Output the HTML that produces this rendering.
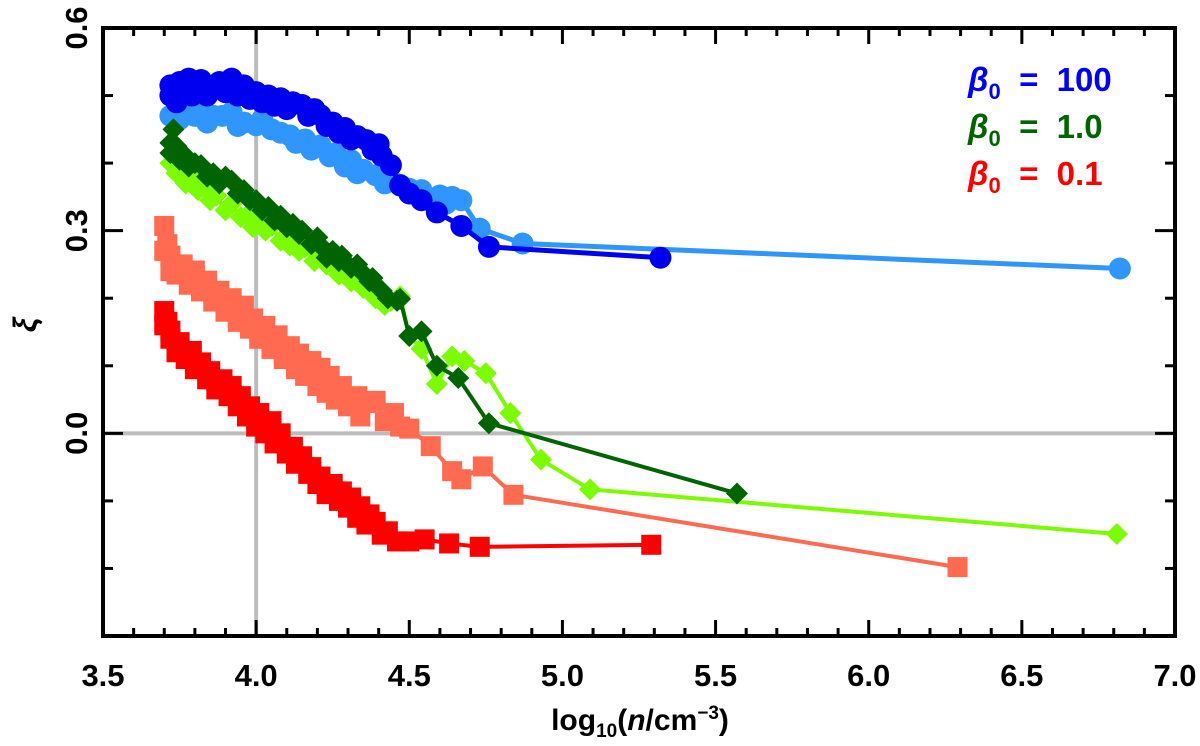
<!DOCTYPE html>
<html><head><meta charset="utf-8"><style>
html,body{margin:0;padding:0;background:#fff;}
svg text{font-family:"Liberation Sans",sans-serif;font-weight:bold;}
</style></head><body>
<svg id="chart" width="1200" height="741" viewBox="0 0 1200 741" xmlns="http://www.w3.org/2000/svg">
<g id="grid"></g>
<g id="series"></g>
<g id="axes"></g>
<g id="legend">
<text x="968" y="91" fill="#0000ff" font-size="33"><tspan font-style="italic">β</tspan><tspan font-size="22" dy="8">0</tspan><tspan dy="-8" xml:space="preserve">  =  100</tspan></text>
<text x="968" y="138" fill="#006400" font-size="33"><tspan font-style="italic">β</tspan><tspan font-size="22" dy="8">0</tspan><tspan dy="-8" xml:space="preserve">  =  1.0</tspan></text>
<text x="968" y="185" fill="#ff0000" font-size="33"><tspan font-style="italic">β</tspan><tspan font-size="22" dy="8">0</tspan><tspan dy="-8" xml:space="preserve">  =  0.1</tspan></text>
</g>
<text x="640" y="730" text-anchor="middle" font-size="30">log<tspan font-size="19" dy="7">10</tspan><tspan dy="-7">(</tspan><tspan font-style="italic">n</tspan>/cm<tspan font-size="19" dy="-11">−3</tspan><tspan dy="11">)</tspan></text>
<text x="0" y="0" transform="translate(36,325) rotate(-90)" text-anchor="middle" font-size="32" font-style="italic">ξ</text>
</svg>
<script>
const xTicks=[3.5,4.0,4.5,5.0,5.5,6.0,6.5,7.0];
const xTickLabels=["3.5","4.0","4.5","5.0","5.5","6.0","6.5","7.0"];
const yTicks=[0.0,0.3,0.6];
const yTickLabels=["0.0","0.3","0.6"];
const xMinor=[3.6,3.7,3.8,3.9,4.1,4.2,4.3,4.4,4.6,4.7,4.8,4.9,5.1,5.2,5.3,5.4,5.6,5.7,5.8,5.9,6.1,6.2,6.3,6.4,6.6,6.7,6.8,6.9];
const yMinor=[-0.2,-0.1,0.1,0.2,0.4,0.5];
const b100X=[3.72,3.72,3.74,3.75,3.76,3.78,3.79,3.80,3.82,3.84,3.86,3.88,3.90,3.92,3.94,3.96,3.98,4.0,4.02,4.04,4.06,4.08,4.10,4.12,4.15,4.17,4.19,4.21,4.23,4.25,4.27,4.29,4.31,4.33,4.36,4.38,4.40,4.41,4.44,4.47,4.50,4.54,4.59,4.67,4.76,5.32];
const b100Y=[0.50,0.515,0.49,0.52,0.505,0.525,0.50,0.515,0.523,0.50,0.51,0.52,0.505,0.525,0.50,0.515,0.495,0.505,0.49,0.50,0.485,0.496,0.48,0.49,0.486,0.47,0.48,0.471,0.455,0.46,0.445,0.452,0.435,0.44,0.434,0.42,0.428,0.411,0.397,0.367,0.355,0.345,0.327,0.307,0.276,0.26];
const b100lX=[3.72,3.74,3.75,3.78,3.80,3.82,3.84,3.86,3.89,3.92,3.94,3.96,4.0,4.02,4.05,4.08,4.11,4.13,4.16,4.18,4.21,4.24,4.26,4.29,4.31,4.33,4.35,4.39,4.42,4.44,4.47,4.50,4.54,4.57,4.60,4.62,4.64,4.67,4.73,4.87,6.82];
const b100lY=[0.47,0.48,0.465,0.475,0.47,0.475,0.46,0.47,0.47,0.475,0.455,0.46,0.456,0.465,0.45,0.445,0.441,0.43,0.435,0.42,0.426,0.41,0.415,0.395,0.404,0.385,0.39,0.382,0.37,0.375,0.368,0.362,0.36,0.345,0.352,0.34,0.35,0.345,0.303,0.281,0.244];
const b1X=[3.72,3.73,3.72,3.74,3.75,3.77,3.78,3.80,3.82,3.84,3.86,3.88,3.90,3.92,3.94,3.96,3.98,4.0,4.02,4.04,4.06,4.08,4.10,4.12,4.14,4.15,4.18,4.20,4.21,4.23,4.25,4.27,4.28,4.31,4.33,4.34,4.37,4.38,4.41,4.43,4.46,4.47,4.50,4.54,4.59,4.66,4.76,5.57];
const b1Y=[0.43,0.45,0.415,0.425,0.405,0.41,0.395,0.40,0.397,0.38,0.385,0.37,0.38,0.374,0.355,0.36,0.345,0.345,0.33,0.335,0.315,0.322,0.305,0.31,0.295,0.30,0.28,0.29,0.278,0.26,0.27,0.255,0.263,0.245,0.25,0.241,0.225,0.23,0.211,0.2,0.196,0.199,0.144,0.151,0.10,0.082,0.015,-0.089];
const b1lX=[3.72,3.74,3.75,3.77,3.79,3.81,3.83,3.85,3.87,3.90,3.92,3.95,3.97,3.99,4.01,4.03,4.05,4.08,4.10,4.11,4.14,4.16,4.19,4.21,4.23,4.25,4.27,4.29,4.31,4.33,4.35,4.37,4.39,4.40,4.42,4.44,4.47,4.50,4.54,4.59,4.64,4.68,4.75,4.83,4.93,5.09,6.81];
const b1lY=[0.40,0.385,0.39,0.37,0.38,0.36,0.365,0.345,0.352,0.33,0.34,0.32,0.322,0.305,0.315,0.30,0.307,0.285,0.29,0.278,0.27,0.275,0.255,0.263,0.25,0.255,0.235,0.244,0.225,0.23,0.215,0.211,0.2,0.205,0.19,0.196,0.203,0.144,0.125,0.073,0.114,0.107,0.089,0.03,-0.039,-0.083,-0.149];
const b01lX=[3.70,3.70,3.71,3.72,3.72,3.74,3.76,3.78,3.80,3.82,3.84,3.86,3.88,3.90,3.92,3.94,3.96,3.98,3.99,4.01,4.03,4.05,4.07,4.09,4.11,4.13,4.14,4.16,4.18,4.20,4.21,4.23,4.24,4.26,4.28,4.30,4.33,4.34,4.36,4.39,4.42,4.45,4.47,4.50,4.57,4.64,4.67,4.74,4.84,6.29];
const b01lY=[0.307,0.27,0.28,0.24,0.263,0.235,0.25,0.22,0.241,0.21,0.226,0.195,0.211,0.18,0.2,0.165,0.189,0.155,0.17,0.14,0.159,0.125,0.145,0.11,0.129,0.095,0.118,0.085,0.107,0.07,0.097,0.06,0.085,0.05,0.07,0.04,0.055,0.025,0.045,0.048,0.018,0.03,0.01,0.007,-0.019,-0.056,-0.068,-0.049,-0.091,-0.198];
const b01X=[3.70,3.70,3.71,3.72,3.72,3.74,3.75,3.77,3.79,3.80,3.82,3.84,3.85,3.87,3.89,3.91,3.92,3.94,3.95,3.97,3.98,4.00,4.01,4.03,4.05,4.06,4.08,4.10,4.12,4.13,4.15,4.17,4.18,4.20,4.21,4.23,4.25,4.27,4.28,4.30,4.31,4.33,4.34,4.36,4.37,4.39,4.41,4.43,4.46,4.50,4.55,4.63,4.73,5.29];
const b01Y=[0.181,0.16,0.165,0.14,0.152,0.12,0.135,0.11,0.122,0.095,0.105,0.08,0.092,0.065,0.08,0.055,0.07,0.04,0.055,0.025,0.04,0.01,0.03,0.0,0.018,-0.015,0.0,-0.03,-0.02,-0.045,-0.034,-0.06,-0.05,-0.075,-0.064,-0.09,-0.075,-0.1,-0.086,-0.11,-0.095,-0.125,-0.108,-0.135,-0.12,-0.131,-0.15,-0.145,-0.16,-0.16,-0.157,-0.163,-0.168,-0.165];

const X0=103,X1=1175,Y0=28,Y1=636;
function sx(v){return X0+(v-3.5)/3.5*(X1-X0);}
function sy(v){return Y1-(v+0.3)/0.9*(Y1-Y0);}
const NS="http://www.w3.org/2000/svg";
function mk(tag,parent,attrs){const e=document.createElementNS(NS,tag);for(const k in attrs)e.setAttribute(k,attrs[k]);parent.appendChild(e);return e;}
const grid=document.getElementById('grid'),ser=document.getElementById('series'),axes=document.getElementById('axes');
let g1=mk('line',grid,{x1:sx(4.0),x2:sx(4.0),y1:Y0,y2:Y1,stroke:'#bcbcbc','stroke-width':4});


let g2=mk('line',grid,{x1:X0,x2:X1,y1:sy(0),y2:sy(0),stroke:'#bcbcbc','stroke-width':4});



function series(xs,ys,color,shape,name,lw){
  const g=mk('g',ser,{});
  
  
  const pts=xs.map((x,i)=>sx(x)+','+sy(ys[i])).join(' ');
  const pl=mk('polyline',g,{points:pts,fill:'none',stroke:color,'stroke-width':lw,'stroke-linejoin':'round'});
  
  
  xs.forEach((x,i)=>{
    const cx=sx(x),cy=sy(ys[i]);let m;
    if(shape==='circle') m=mk('circle',g,{cx:cx,cy:cy,r:11,fill:color});
    else if(shape==='square') m=mk('rect',g,{x:cx-10,y:cy-10,width:20,height:20,fill:color});
    else m=mk('polygon',g,{points:`${cx},${cy-11} ${cx+11},${cy} ${cx},${cy+11} ${cx-11},${cy}`,fill:color});
    
    
  });
}
series(b100lX,b100lY,'#2f96ff','circle','series-beta100-light',5);
series(b100X,b100Y,'#0000f0','circle','series-beta100-dark',5);
series(b1lX,b1lY,'#7cfc00','diamond','series-beta1-light',4);
series(b1X,b1Y,'#006400','diamond','series-beta1-dark',4);
series(b01lX,b01lY,'#ff6a50','square','series-beta01-light',4);
series(b01X,b01Y,'#ff0000','square','series-beta01-dark',4);

let fr=mk('rect',axes,{x:X0,y:Y0,width:X1-X0,height:Y1-Y0,fill:'none',stroke:'#000','stroke-width':4});


xTicks.forEach((v,i)=>{
  const x=sx(v);
  let t=mk('line',axes,{x1:x,x2:x,y1:Y1,y2:Y1-16,stroke:'#000','stroke-width':3});
  
  
  let t2=mk('line',axes,{x1:x,x2:x,y1:Y0,y2:Y0+16,stroke:'#000','stroke-width':3});
  
  
  let l=mk('text',axes,{x:x,y:Y1+50,'text-anchor':'middle','font-size':31});
  l.textContent=xTickLabels[i];
  
  
});
xMinor.forEach(v=>{
  const x=sx(v);
  let t=mk('line',axes,{x1:x,x2:x,y1:Y1,y2:Y1-8,stroke:'#000','stroke-width':3});
  
  
  let t2=mk('line',axes,{x1:x,x2:x,y1:Y0,y2:Y0+8,stroke:'#000','stroke-width':3});
  
  
});
yTicks.forEach((v,i)=>{
  const y=sy(v);
  let t=mk('line',axes,{x1:X0,x2:X0+20,y1:y,y2:y,stroke:'#000','stroke-width':3});
  
  
  let t2=mk('line',axes,{x1:X1,x2:X1-20,y1:y,y2:y,stroke:'#000','stroke-width':3});
  
  
  let l=mk('text',axes,{x:0,y:0,transform:`translate(87,${y}) rotate(-90)`,'text-anchor':'middle','font-size':31});
  l.textContent=yTickLabels[i];
  
  
});
yMinor.forEach(v=>{
  const y=sy(v);
  let t=mk('line',axes,{x1:X0,x2:X0+10,y1:y,y2:y,stroke:'#000','stroke-width':3});
  
  
  let t2=mk('line',axes,{x1:X1,x2:X1-10,y1:y,y2:y,stroke:'#000','stroke-width':3});
  
  
});
</script>
</body></html>
